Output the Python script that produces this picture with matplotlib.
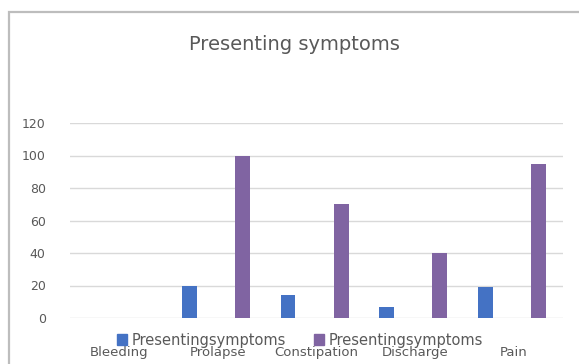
import matplotlib
matplotlib.use("Agg")
import matplotlib.pyplot as plt
from matplotlib.patches import Rectangle, Patch
import numpy as np

categories = ["Bleeding", "Prolapse", "Constipation", "Discharge", "Pain"]
series1 = [0, 20, 14, 7, 19]
series2 = [0, 100, 70, 40, 95]
series_names = ["Presentingsymptoms", "Presentingsymptoms"]
yticks = [0, 20, 40, 60, 80, 100, 120]
title = "Presenting symptoms"

blue = "#4472C4"
purple = "#8064A2"
gray_text = "#595959"

fig = plt.figure(figsize=(5.79, 3.64), dpi=100)
fig.patch.set_facecolor("white")

# chart border (top and left visible)
fig.add_artist(Rectangle((9/579, -0.1), 1.2, (364-12)/364 + 0.1,
                         transform=fig.transFigure, fill=False,
                         edgecolor="#BDBDBD", linewidth=1.6))

ax = fig.add_axes([70/579, 1-318/364, (563-70)/579, (318-123)/364])
x = np.arange(len(categories))
w = 0.15
ax.bar(x - 0.29, series1, width=w, color=blue, label=series_names[0], zorder=3)
ax.bar(x + 0.25, series2, width=w, color=purple, label=series_names[1], zorder=3)

ax.set_xlim(-0.5, len(categories) - 0.5)
ax.set_ylim(0, 120)
ax.set_yticks(yticks)
ax.set_yticklabels([str(v) for v in yticks])
ax.set_xticks(x)
ax.set_xticklabels(categories)
ax.grid(axis="y", color="#D9D9D9", linewidth=1, zorder=0)
for s in ax.spines.values():
    s.set_visible(False)
ax.tick_params(axis="y", length=0, pad=17.5, labelsize=9, labelcolor=gray_text)
ax.tick_params(axis="x", length=0, pad=20, labelsize=9.5, labelcolor=gray_text)

fig.text(294/579, 1-44/364, title, ha="center", va="center",
         fontsize=14, color=gray_text)

handles = [Patch(color=blue), Patch(color=purple)]
fig.legend(handles, series_names, loc="center left",
           bbox_to_anchor=(104/579, 1-340/364), ncol=2, frameon=False,
           fontsize=10.5, labelcolor=gray_text, handlelength=0.7,
           handleheight=0.7, handletextpad=0.3, columnspacing=1.93)

fig.savefig("out.png", dpi=100)
